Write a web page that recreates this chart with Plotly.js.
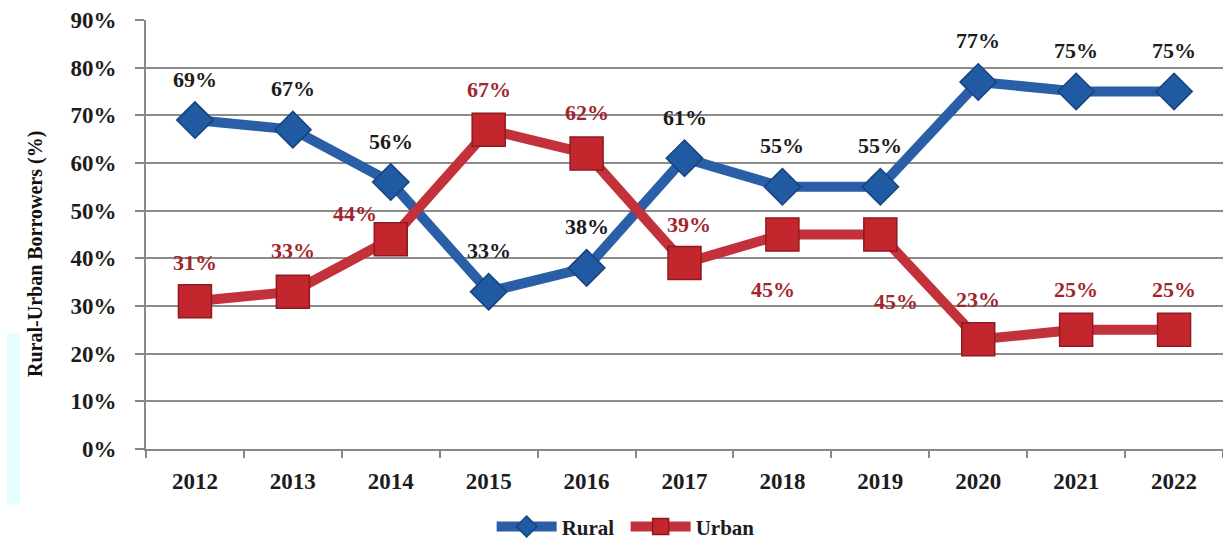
<!DOCTYPE html>
<html>
<head>
<meta charset="utf-8">
<script src="https://cdn.plot.ly/plotly-3.0.1.min.js"></script>
<style>html,body{margin:0;padding:0;background:#fff;}#chart{width:1223px;height:542px;}</style>
</head>
<body>
<div id="chart"></div>
<script>
const years = ["2012","2013","2014","2015","2016","2017","2018","2019","2020","2021","2022"];
const rural = [69, 67, 56, 33, 38, 61, 55, 55, 77, 75, 75];
const urban = [31, 33, 44, 67, 62, 39, 45, 45, 23, 25, 25];

// label placement (pixel offsets, style only)
const ruralDx = [0,0,0,0,0,0,0,0,0,0,0];
const ruralDy = [41,41,41,41,41,41,41,41,41,41,41];
const urbanDx = [0,0,-36,0,0,4,-9,16,0,0,0];
const urbanDy = [39,41,26,40,41,39,-55,-67,40,40,40];

const serif = "Liberation Serif, DejaVu Serif, serif";

const traces = [
  {
    x: years, y: rural, name: "Rural", type: "scatter", mode: "lines+markers",
    line: {color: "#2a5fa8", width: 10},
    marker: {symbol: "diamond", size: 28, color: "#1f5aa3", line: {color: "#17437d", width: 1.5}}
  },
  {
    x: years, y: urban, name: "Urban", type: "scatter", mode: "lines+markers",
    line: {color: "#c3313a", width: 10},
    marker: {symbol: "square", size: 33, color: "#c4262e", line: {color: "#8e1a20", width: 1.5}}
  }
];

const annotations = [];
years.forEach((yr, i) => {
  annotations.push({x: i, y: rural[i], xref: "x", yref: "y", text: rural[i] + "%",
    showarrow: false, xshift: ruralDx[i], yshift: ruralDy[i],
    font: {family: serif, size: 22, color: "#1c1c1c", weight: "bold"}});
  annotations.push({x: i, y: urban[i], xref: "x", yref: "y", text: urban[i] + "%",
    showarrow: false, xshift: urbanDx[i], yshift: urbanDy[i],
    font: {family: serif, size: 22, color: "#a3262e", weight: "bold"}});
});
annotations.push({
  text: "Rural-Urban Borrowers (%)", xref: "paper", yref: "paper",
  x: -0.102, y: 0.455, xanchor: "center", yanchor: "middle", textangle: -90, showarrow: false,
  font: {family: serif, size: 20, color: "#111", weight: "bold"}
});

const layout = {
  width: 1223, height: 542,
  margin: {l: 146, r: 0, t: 20, b: 93},
  paper_bgcolor: "#fff", plot_bgcolor: "#fff",
  showlegend: true,
  legend: {orientation: "h", x: 0.402, xanchor: "left", xref: "container", y: 0.028, yref: "container", yanchor: "middle",
    font: {family: serif, size: 21, color: "#1c1c1c", weight: "bold"}, itemwidth: 60, entrywidth: 59, tracegroupgap: 0},
  xaxis: {
    type: "category", range: [-0.5, 10.5], tickson: "boundaries",
    ticks: "outside", ticklen: 7, tickcolor: "#888", tickwidth: 2,
    showline: true, linecolor: "#888", linewidth: 2, showgrid: false,
    tickfont: {family: serif, size: 23, color: "#1c1c1c", weight: "bold"},
    ticklabelstandoff: 10
  },
  yaxis: {
    range: [0, 90], dtick: 10, ticksuffix: "%",
    showgrid: true, gridcolor: "#8c8c8c", gridwidth: 1.5,
    showline: true, linecolor: "#888", linewidth: 2,
    ticks: "outside", ticklen: 9, tickcolor: "#888", tickwidth: 1.5,
    zeroline: false,
    tickfont: {family: serif, size: 23, color: "#1c1c1c", weight: "bold"},
    ticklabelstandoff: 14
  },
  annotations: annotations,
  shapes: [
    {type: "rect", xref: "paper", yref: "paper", x0: -0.129, x1: -0.117, y0: -0.13, y1: 0.27,
     fillcolor: "#e4ffff", line: {width: 0}, layer: "below"}
  ]
};

Plotly.newPlot("chart", traces, layout, {displayModeBar: false, responsive: false});
</script>
</body>
</html>
